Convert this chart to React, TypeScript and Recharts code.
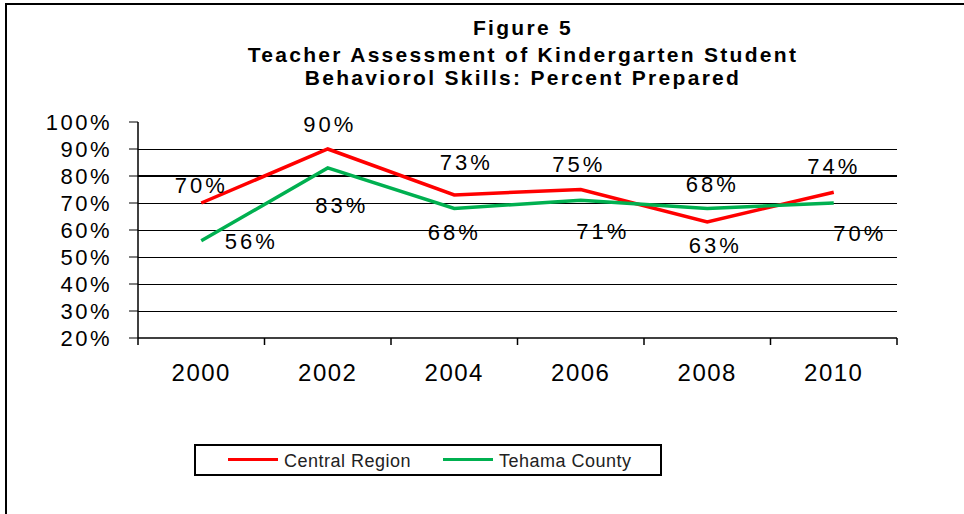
import React from 'react';
import { LineChart, Line, XAxis, YAxis, ReferenceLine, Legend, LabelList } from 'recharts';

const years = ['2000', '2002', '2004', '2006', '2008', '2010'];
const centralRegion = [70, 90, 73, 75, 63, 74];
const tehamaCounty = [56, 83, 68, 71, 68, 70];
const yTicks = [20, 30, 40, 50, 60, 70, 80, 90, 100];

const titleLines = [
  'Figure 5',
  'Teacher Assessment of Kindergarten Student',
  'Behaviorol Skills: Percent Prepared',
];

// where each data label sits relative to its point (dx, dy of the text centre)
const centralLabelShift = [[0, -18], [2, -25], [12, -33], [-2, -26], [8, 23], [0, -26]];
const tehamaLabelShift = [[50, 0], [14, 37], [0, 24], [22, 31], [5, -24], [26, 30]];

const data = years.map((year, i) => ({
  idx: i,
  year,
  central: centralRegion[i],
  tehama: tehamaCounty[i],
}));
const boundaryTicks = [...years.map((_, i) => i - 0.5), years.length - 0.5];
const centreTicks = years.map((_, i) => i);
const xDomain = [-0.5, years.length - 0.5];

const FONT = '"Liberation Sans", Arial, Helvetica, sans-serif';
const RED = '#ff0000';
const GREEN = '#00b050';

function makeLabel(shift: number[][]) {
  return (props: any) => {
    const x = props.x ?? props.viewBox?.x;
    const y = props.y ?? props.viewBox?.y;
    const [dx, dy] = shift[props.index] || [0, 0];
    return (
      <text
        x={x + dx}
        y={y + dy + 8}
        textAnchor="middle"
        fontSize={22}
        letterSpacing={3}
        fontFamily={FONT}
        fill="#000"
      >
        {props.value}%
      </text>
    );
  };
}

const YTick = (props: any) => {
  const { x, y, payload } = props;
  return (
    <text x={x} y={y + 8} textAnchor="end" fontSize={22} letterSpacing={2.5} fontFamily={FONT} fill="#000">
      {payload.value}%
    </text>
  );
};

const XLabel = (props: any) => {
  const { x, y, payload } = props;
  return (
    <text x={x} y={y + 36} textAnchor="middle" fontSize={24} letterSpacing={1.5} fontFamily={FONT} fill="#000">
      {years[payload.value]}
    </text>
  );
};

const NoLabel = () => <g />;

const GridLine = (props: any) => (
  <line
    x1={props.x1}
    y1={props.y1}
    x2={props.x2}
    y2={props.y2}
    stroke="#000"
    strokeWidth={props.strokeWidth}
    shapeRendering="crispEdges"
  />
);

const legendX = [34, 249];

const LegendBox = (props: any) => {
  const items = props.payload || [];
  return (
    <svg width={468} height={32} style={{ display: 'block' }}>
      <rect x={1} y={1} width={466} height={30} fill="#fff" stroke="#000" strokeWidth={2} />
      {items.map((item: any, i: number) => (
        <g key={item.value}>
          <line x1={legendX[i]} x2={legendX[i] + 50} y1={15.5} y2={15.5} stroke={item.color} strokeWidth={3} />
          <text x={legendX[i] + 56} y={23} fontSize={18} letterSpacing={0.5} fontFamily={FONT} fill="#222">
            {item.value}
          </text>
        </g>
      ))}
    </svg>
  );
};

export default function App() {
  return (
    <div style={{ position: 'absolute', left: 0, top: 0, width: 964, height: 514, background: '#fff' }}>
      <div
        style={{
          position: 'absolute',
          left: 5,
          top: 3,
          width: 959,
          height: 511,
          borderTop: '2px solid #000',
          borderLeft: '2px solid #000',
          boxSizing: 'border-box',
        }}
      />
      <svg width={964} height={100} style={{ position: 'absolute', left: 0, top: 0 }}>
        {titleLines.map((line, i) => (
          <text
            key={line}
            x={523}
            y={[35, 62, 85][i]}
            textAnchor="middle"
            fontSize={21}
            fontWeight="bold"
            letterSpacing={2.3}
            fontFamily={FONT}
            fill="#000"
          >
            {line}
          </text>
        ))}
      </svg>
      <div style={{ position: 'absolute', left: 0, top: 0 }}>
        <LineChart width={964} height={514} data={data} margin={{ top: 122, right: 67, bottom: 119, left: 0 }}>
          <XAxis
            xAxisId="bounds"
            type="number"
            dataKey="idx"
            domain={xDomain}
            ticks={boundaryTicks}
            allowDataOverflow
            interval={0}
            height={7}
            tick={<NoLabel />}
            tickSize={7}
            axisLine={{ stroke: '#000', strokeWidth: 1.5 }}
            tickLine={{ stroke: '#000', strokeWidth: 1.5 }}
          />
          <XAxis
            xAxisId="labels"
            type="number"
            dataKey="idx"
            domain={xDomain}
            ticks={centreTicks}
            allowDataOverflow
            interval={0}
            height={50}
            tickSize={0}
            tickMargin={0}
            axisLine={false}
            tickLine={false}
            tick={<XLabel />}
          />
          <YAxis
            type="number"
            domain={[20, 100]}
            ticks={yTicks}
            allowDataOverflow
            interval={0}
            width={138}
            tickSize={9}
            tickMargin={17}
            axisLine={{ stroke: '#000', strokeWidth: 1.5 }}
            tickLine={{ stroke: '#000', strokeWidth: 1 }}
            tick={<YTick />}
          />
          {yTicks
            .filter((v) => v > 20 && v < 100)
            .map((v) => (
              <ReferenceLine
                key={v}
                y={v}
                xAxisId="labels"
                stroke="#000"
                strokeWidth={v === 80 ? 2 : 1}
                shape={<GridLine />}
              />
            ))}
          <Legend
            layout="horizontal"
            verticalAlign="middle"
            align="center"
            content={<LegendBox />}
            wrapperStyle={{ position: 'absolute', left: 194, top: 444, width: 468, height: 32 }}
          />
          <Line
            xAxisId="labels"
            type="linear"
            dataKey="central"
            name="Central Region"
            stroke={RED}
            strokeWidth={3.5}
            dot={false}
            isAnimationActive={false}
          >
            <LabelList dataKey="central" content={makeLabel(centralLabelShift)} />
          </Line>
          <Line
            xAxisId="labels"
            type="linear"
            dataKey="tehama"
            name="Tehama County"
            stroke={GREEN}
            strokeWidth={3.5}
            dot={false}
            isAnimationActive={false}
          >
            <LabelList dataKey="tehama" content={makeLabel(tehamaLabelShift)} />
          </Line>
        </LineChart>
      </div>
    </div>
  );
}
